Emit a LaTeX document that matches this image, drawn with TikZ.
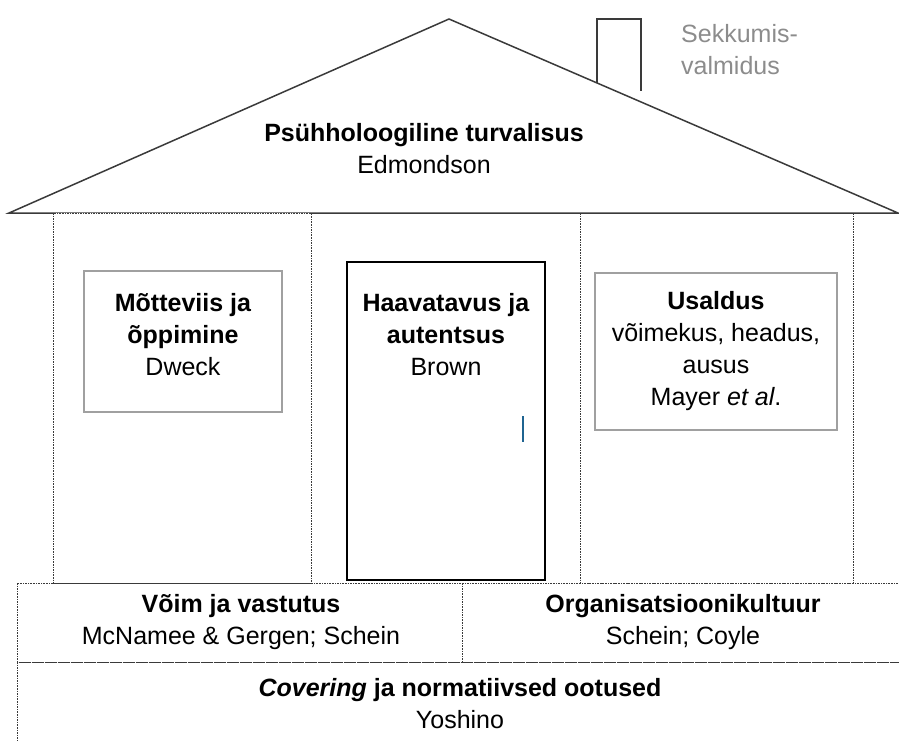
\documentclass[tikz,border=0pt]{standalone}
\usepackage{fontspec}
\setmainfont{Liberation Sans}
\definecolor{linegray}{HTML}{3A3A3A}
\definecolor{boxgray}{HTML}{A0A0A0}
\definecolor{labelgray}{HTML}{8C8C8C}
\definecolor{handleblue}{HTML}{1F6491}
\begin{document}
\begin{tikzpicture}[x=1pt,y=-1pt,
  roofline/.style={draw=linegray,line width=1.5pt,line join=miter},
  dotline/.style={draw=linegray,line width=1pt,dash pattern=on 1.6pt off 1pt},
  innerbox/.style={draw=boxgray,line width=1.2pt,fill=white,inner sep=0pt},
  doorbox/.style={draw=black,line width=1.5pt,fill=white,inner sep=0pt},
  label/.style={align=center,font=\fontsize{25}{32}\selectfont,inner sep=0pt},
  grayl/.style={align=left,font=\fontsize{25}{32}\selectfont,text=labelgray,inner sep=0pt,anchor=north west}
]
\useasboundingbox (0,0) rectangle (899,740);
% bottom bands
\coordinate (bandTL) at (17,583);
\coordinate (bandBR) at (901,662);
\coordinate (baseTL) at (17,662);
\coordinate (baseBR) at (901,742);
\coordinate (divT) at (462,583);
\coordinate (divB) at (462,662);
\path[dotline] (bandTL) rectangle (bandBR);
\path[dotline] (baseTL) rectangle (baseBR);
\path[dotline] (divT) -- (divB);
% right wall
\coordinate (rwTL) at (580,213);
\coordinate (rwBR) at (853,583);
\path[dotline] (rwTL) rectangle (rwBR);
% chimney
\coordinate (chA) at (597,83);
\coordinate (chB) at (597,19);
\coordinate (chC) at (641,19);
\coordinate (chD) at (641,91);
\path[roofline,line width=1.3pt] (chA) -- (chB) -- (chC) -- (chD);
% roof
\coordinate (roofL) at (9,213);
\coordinate (roofT) at (449,19);
\coordinate (roofR) at (898,213);
\path[roofline] (roofL) -- (roofT) -- (roofR) -- cycle;
% left wall
\coordinate (lwTL) at (53,213);
\coordinate (lwBR) at (311,583);
\path[dotline,fill=white] (lwTL) rectangle (lwBR);
% inner boxes
\node[innerbox,minimum width=198pt,minimum height=141pt] (mind) at (183,341.5) {};
\node[innerbox,minimum width=242pt,minimum height=157pt] (trust) at (716,351.5) {};
\node[doorbox,minimum width=198pt,minimum height=318pt] (door) at (446,421) {};
\coordinate (hA) at (523,416);
\coordinate (hB) at (523,442);
\draw[handleblue,line width=2pt] (hA) -- (hB);
% texts
\node[label] (roofText) at (424,149) {\textbf{Psühholoogiline turvalisus}\\Edmondson};
\node[grayl] (sekk) at (681,24) {Sekkumis-\\valmidus};
\node[label] (mindText) at (183,335) {\textbf{Mõtteviis ja}\\\textbf{õppimine}\\Dweck};
\node[label] (doorText) at (446,335) {\textbf{Haavatavus ja}\\\textbf{autentsus}\\Brown};
\node[label] (trustText) at (716,351) {\textbf{Usaldus}\\võimekus, headus,\\ausus\\Mayer \textit{et al}.};
\node[label] (powerText) at (241,622) {\textbf{Võim ja vastutus}\\McNamee \& Gergen; Schein};
\node[label] (cultText) at (683,622) {\textbf{Organisatsioonikultuur}\\Schein; Coyle};
\node[label] (coverText) at (460,704) {\textbf{\textit{Covering} ja normatiivsed ootused}\\Yoshino};
\end{tikzpicture}
\end{document}
